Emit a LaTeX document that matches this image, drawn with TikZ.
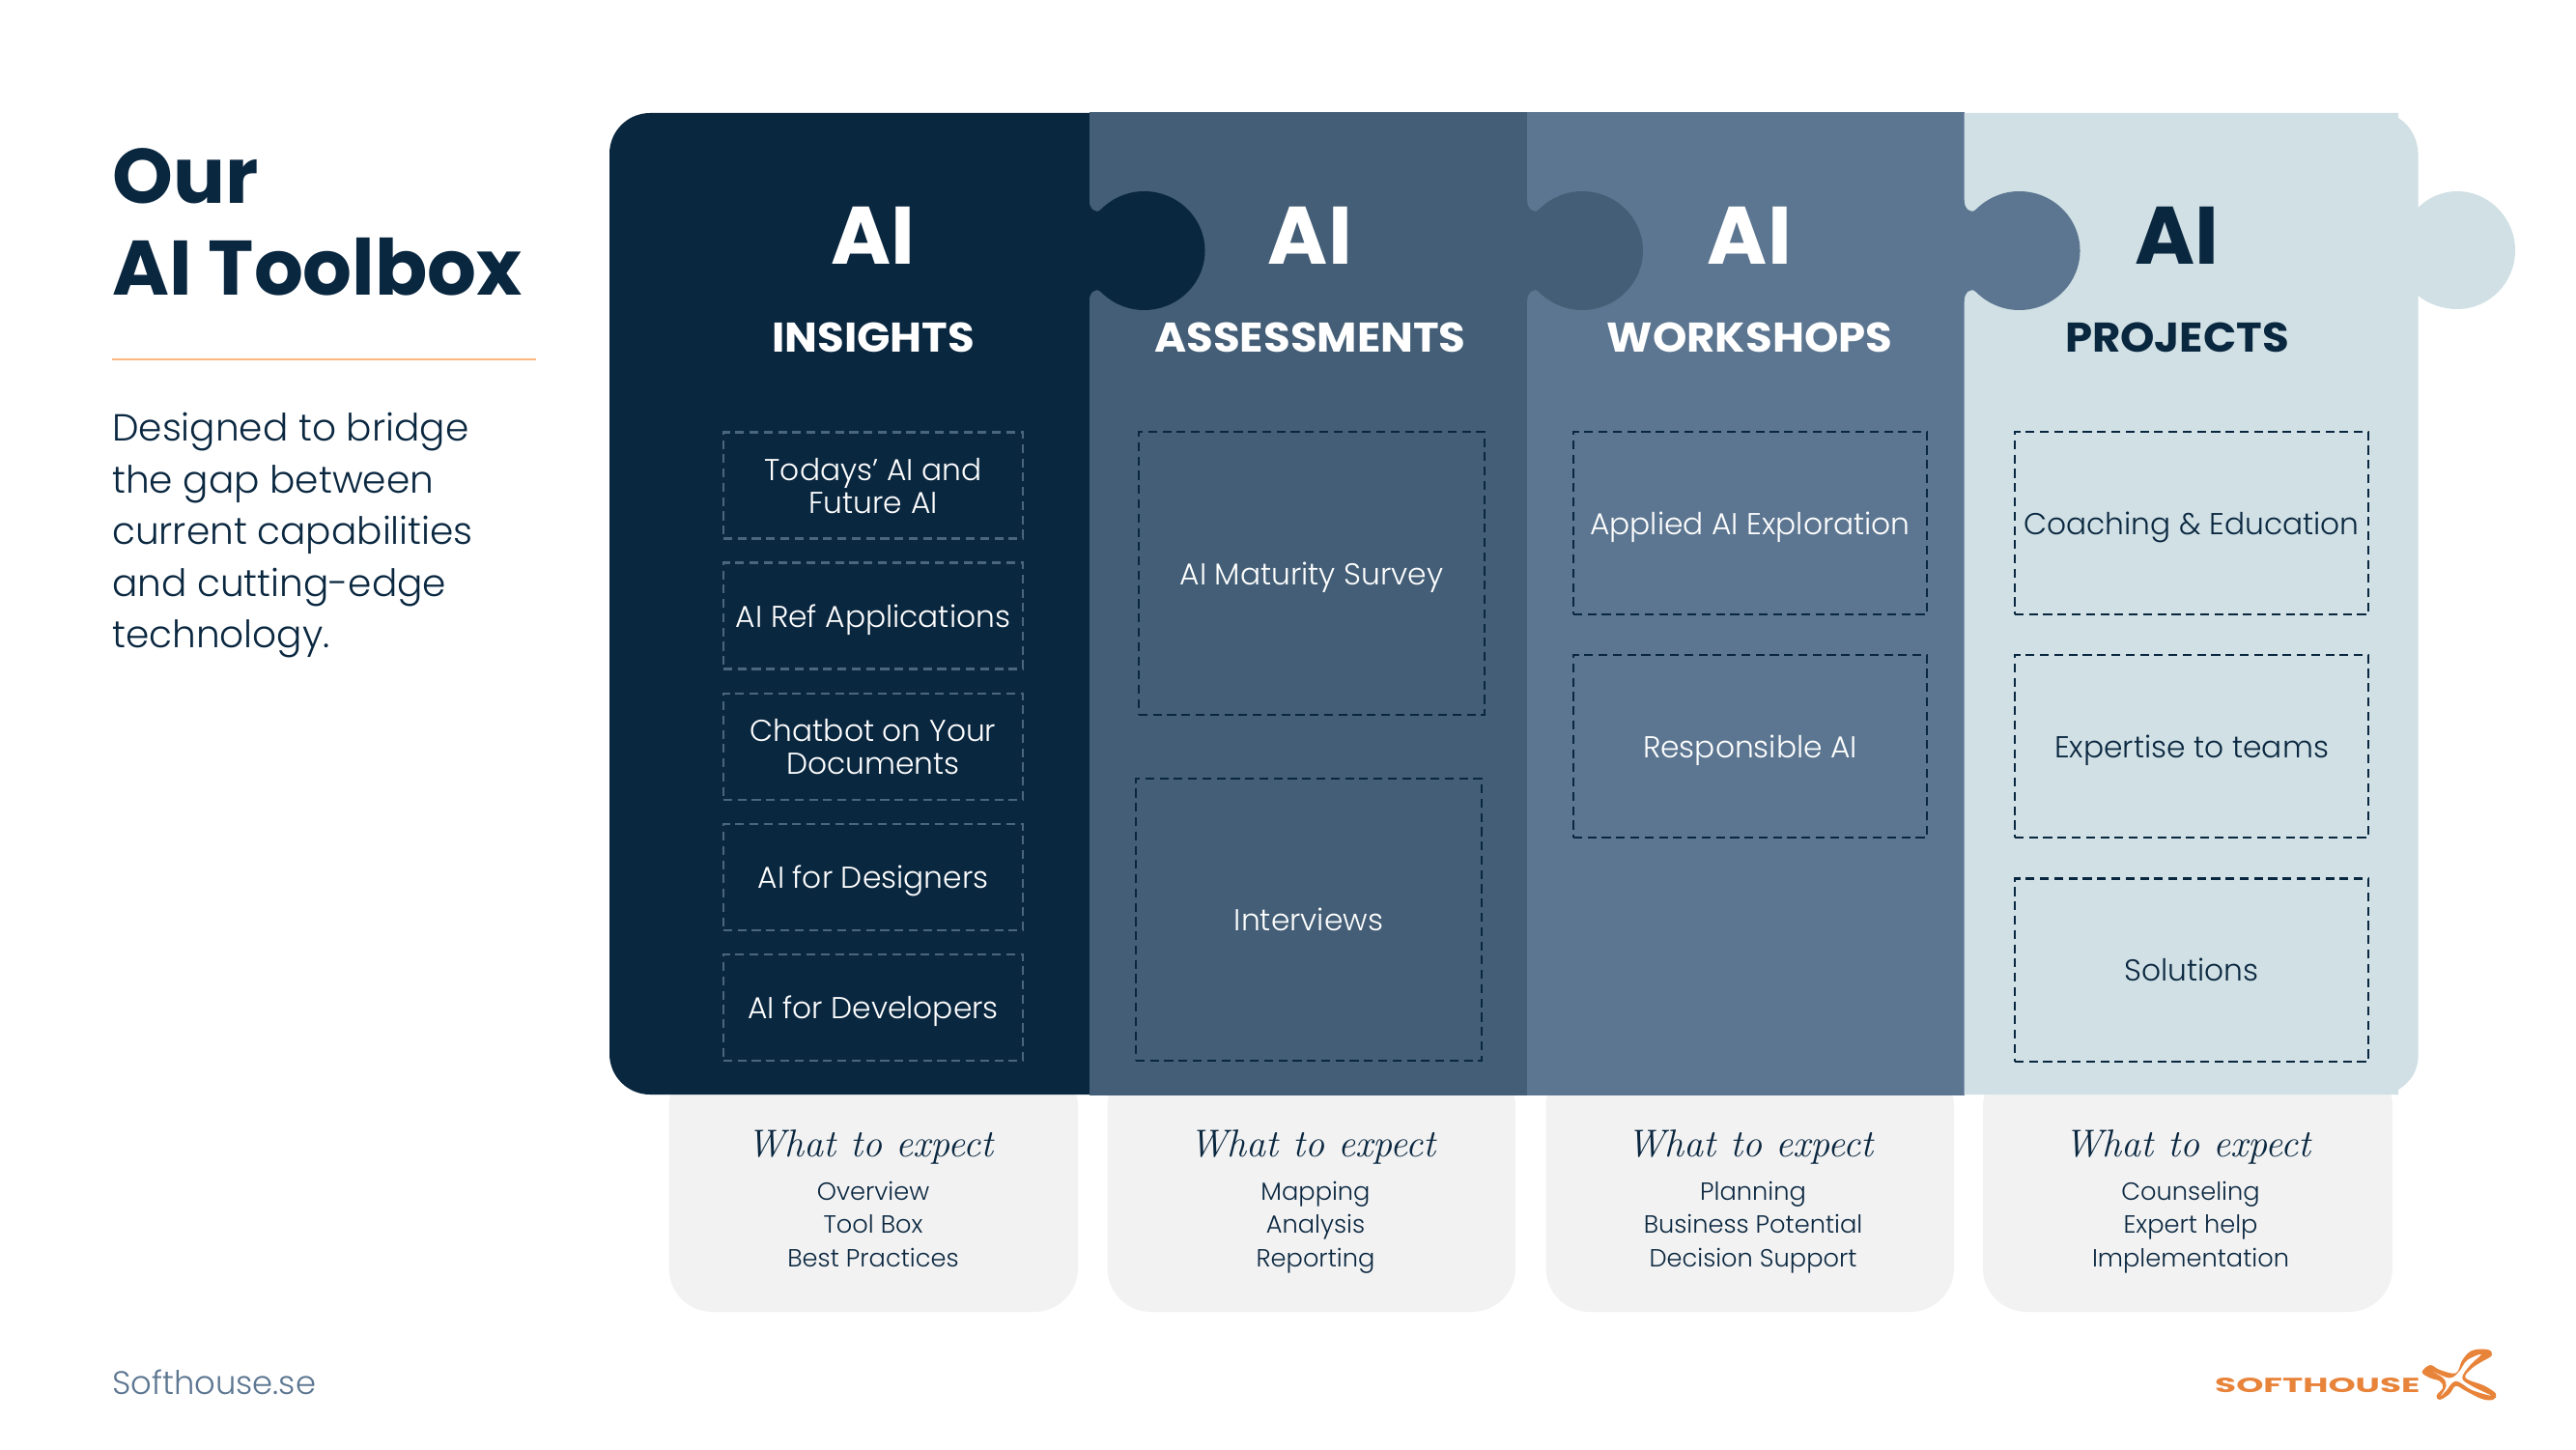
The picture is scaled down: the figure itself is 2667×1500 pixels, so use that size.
\documentclass[tikz,border=0pt]{standalone}
\usepackage{fontspec}
\setsansfont{Poppins}
\newfontfamily\lightfont{Poppins Light}
\definecolor{navy}{HTML}{0A2740}
\definecolor{slate}{HTML}{435E76}
\definecolor{steel}{HTML}{5C7691}
\definecolor{mist}{HTML}{D0E0E4}
\definecolor{cardgray}{HTML}{F2F2F2}
\definecolor{peach}{HTML}{FFB57F}
\definecolor{logoorange}{HTML}{E8833A}
\definecolor{dashlight}{HTML}{4A6580}
\newcommand{\knobpath}{(-2,207) -- (0,207) .. controls (0,216) and (7,222) .. (12,217)
  .. controls (24,205) and (40,198) .. (57,198) .. controls (92,198) and (120,226) .. (120,259.5)
  .. controls (120,293) and (92,321) .. (57,321) .. controls (40,321) and (24,314) .. (12,302)
  .. controls (7,297) and (0,303) .. (0,312) -- (-2,312) -- cycle}
\tikzset{
  bigai/.style={anchor=base,inner sep=0pt,font=\sffamily\bfseries\fontsize{24}{26}\selectfont},
  heading/.style={anchor=base,inner sep=0pt,xscale=1.05,font=\sffamily\bfseries\fontsize{12.2}{14}\selectfont},
  toolbox/.style={draw,dashed,dash pattern=on 2.6pt off 1.6pt,line width=0.6pt,inner sep=0pt,
    align=center,text depth=0pt,font=\lightfont\fontsize{8.9}{9.67}\selectfont},
  card/.style={fill=cardgray,rounded corners=0.45cm},
  hand/.style={inner sep=0pt,text=navy,font=\rmfamily\itshape\fontsize{11.4}{13}\selectfont},
  expect/.style={anchor=base,inner sep=0pt,text=navy,font=\lightfont\fontsize{7.3}{9}\selectfont},
  bodytext/.style={anchor=base west,inner sep=0pt,text=navy,font=\lightfont\fontsize{11.1}{13}\selectfont}
}
\begin{document}
\begin{tikzpicture}[x=0.01cm,y=-0.01cm]
\useasboundingbox (0,0) rectangle (2667,1500);

\fill[card] (692.5,1100) rectangle (1116,1358);
\fill[card] (1146.5,1100) rectangle (1569,1358);
\fill[card] (1600.5,1100) rectangle (2023,1358);
\fill[card] (2053,1100) rectangle (2477,1358);

\fill[navy,rounded corners=0.42cm] (1200,117) -- (631,117) -- (631,1133) -- (1200,1133) [sharp corners] -- cycle;
\fill[slate] (1127.5,116) rectangle (1581,1134);
\fill[steel] (1581,116) rectangle (2033.5,1134);
\fill[mist] (2033.5,117) -- (2483,117) -- (2483,122) .. controls (2496,130) and (2503.6,145) .. (2503.6,160)
  -- (2503.6,1093) .. controls (2503.6,1108) and (2496,1120) .. (2483,1128) -- (2483,1133) -- (2033.5,1133) -- cycle;
\fill[mist] (2501,215) -- (2503.6,215) .. controls (2513,205) and (2528,198) .. (2544,198)
  .. controls (2577,198) and (2604,226) .. (2604,259) .. controls (2604,293) and (2577,320) .. (2544,320)
  .. controls (2528,320) and (2513,314) .. (2503.6,306) -- (2501,306) -- cycle;

\begin{scope}[shift={(1127.5,0)}]
  \fill[navy] \knobpath;
\end{scope}
\begin{scope}[shift={(1581,0)}]
  \fill[slate] \knobpath;
\end{scope}
\begin{scope}[shift={(2033.5,0)}]
  \fill[steel] \knobpath;
\end{scope}

\node[anchor=base west,inner sep=0pt,text=navy,font=\sffamily\bfseries\fontsize{22.75}{24}\selectfont] (ourtitle) at (115.5,211) {Our};
\node[anchor=base west,inner sep=0pt,text=navy,font=\sffamily\bfseries\fontsize{22.75}{24}\selectfont] (toolboxtitle) at (115.5,305.5) {AI Toolbox};
\coordinate (ruleleft) at (115.5,372);
\coordinate (ruleright) at (555,372);
\draw[peach,line width=0.7pt] (ruleleft) -- (ruleright);
\node[bodytext] (desca) at (115.5,456) {Designed to bridge};
\node[bodytext] (descb) at (115.5,510) {the gap between};
\node[bodytext] (descc) at (115.5,563.5) {current capabilities};
\node[bodytext] (descd) at (115.5,617) {and cutting-edge};
\node[bodytext] (desce) at (115.5,670.5) {technology.};

\node[bigai,text=white] (aiinsights) at (904,274) {AI};
\node[heading,text=white] (insights) at (904,364.5) {INSIGHTS};
\node[bigai,text=white] (aiassess) at (1356.5,274) {AI};
\node[heading,text=white] (assess) at (1356.5,364.5) {ASSESSMENTS};
\node[bigai,text=white] (aiworkshops) at (1811.5,274) {AI};
\node[heading,text=white] (workshops) at (1811.5,364.5) {WORKSHOPS};
\node[bigai,text=navy] (aiprojects) at (2254,274) {AI};
\node[heading,text=navy] (projects) at (2254,364.5) {PROJECTS};

\begin{scope}[toolbox/.append style={draw=dashlight,text=white,minimum width=3.10cm,minimum height=1.10cm}]
  \node[toolbox] (todays) at (904,502.5) {Todays’ AI and\\Future AI};
  \node[toolbox] (refapps) at (904,637.5) {AI Ref Applications};
  \node[toolbox] (chatbot) at (904,773) {Chatbot on Your\\Documents};
  \node[toolbox] (designers) at (904,908) {AI for Designers};
  \node[toolbox] (developers) at (904,1043) {AI for Developers};
\end{scope}

\begin{scope}[toolbox/.append style={draw=navy,text=white,minimum width=3.58cm,minimum height=2.92cm}]
  \node[toolbox] (maturity) at (1358,593.5) {AI Maturity Survey};
  \node[toolbox] (interviews) at (1355,952) {Interviews};
\end{scope}

\begin{scope}[toolbox/.append style={draw=navy,text=white,minimum width=3.66cm,minimum height=1.89cm}]
  \node[toolbox] (applied) at (1812,541.5) {Applied AI Exploration};
  \node[toolbox] (responsible) at (1812,772.5) {Responsible AI};
\end{scope}

\begin{scope}[toolbox/.append style={draw=navy,text=navy,minimum width=3.66cm,minimum height=1.89cm}]
  \node[toolbox] (coaching) at (2269,541.5) {Coaching \& Education};
  \node[toolbox] (expertise) at (2269,772.5) {Expertise to teams};
  \node[toolbox] (solutions) at (2269,1004) {Solutions};
\end{scope}

\node[hand] (expecta) at (901,1187) {What to expect};
\node[expect] (overview) at (904,1242) {Overview};
\node[expect] (toolbox) at (904,1276.5) {Tool Box};
\node[expect] (best) at (904,1311) {Best Practices};

\node[hand] (expectb) at (1359,1187) {What to expect};
\node[expect] (mapping) at (1362,1242) {Mapping};
\node[expect] (analysis) at (1362,1276.5) {Analysis};
\node[expect] (reporting) at (1362,1311) {Reporting};

\node[hand] (expectc) at (1812,1187) {What to expect};
\node[expect] (planning) at (1815,1242) {Planning};
\node[expect] (potential) at (1815,1276.5) {Business Potential};
\node[expect] (decision) at (1815,1311) {Decision Support};

\node[hand] (expectd) at (2265,1187) {What to expect};
\node[expect] (counseling) at (2268,1242) {Counseling};
\node[expect] (experthelp) at (2268,1276.5) {Expert help};
\node[expect] (implementation) at (2268,1311) {Implementation};

\node[anchor=base west,inner sep=0pt,text=steel,font=\lightfont\fontsize{9.6}{11}\selectfont] (website) at (115.5,1443) {Softhouse.se};

\node[anchor=base west,inner sep=0pt,text=logoorange,xscale=1.7,font=\sffamily\bfseries\fontsize{6}{7}\selectfont] (logotext) at (2292,1441.7) {SOFTHOUSE};
\fill[logoorange,even odd rule,x=0.00333cm,y=-0.00333cm,shift={(6790,4146)}]
  plot[smooth cycle,tension=0.6] coordinates {(745,122) (770,100) (800,115) (850,125) (870,85) (900,55) (950,52) (962,70) (930,90) (900,110) (880,140) (940,165) (975,190) (965,208) (930,205) (880,180) (850,165) (830,190) (800,208) (790,195) (810,170) (800,150) (770,140)}
  plot[smooth cycle,tension=0.6] coordinates {(775,118) (830,140) (860,120) (885,85) (930,66) (895,100) (870,140) (900,165) (960,195) (900,178) (850,150) (820,180) (802,198) (820,165) (810,140)};
\end{tikzpicture}
\end{document}
